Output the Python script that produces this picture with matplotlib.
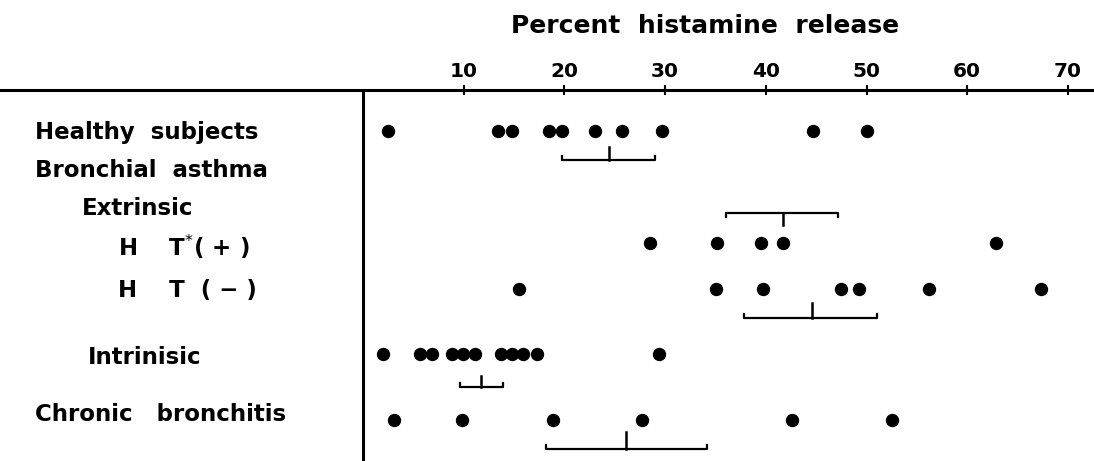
import matplotlib
matplotlib.use('Agg')
import matplotlib.pyplot as plt

# ── Data (percent histamine release) ───────────────────────────────────────────
healthy = [2.5, 13.4, 14.8, 18.5, 19.8, 23.0, 25.7, 29.7, 44.7, 50.0]
ht_pos = [28.5, 35.2, 39.5, 41.7, 62.9]
ht_neg = [15.5, 35.1, 39.7, 47.5, 49.3, 56.2, 67.3]
intrinsic = [2.0, 5.7, 6.9, 8.8, 9.9, 11.1, 13.7, 14.8, 15.9, 17.3, 29.4]
chronic = [3.1, 9.8, 18.9, 27.7, 42.6, 52.5]

# mean bars: (mean, low, high)
bar_healthy = (24.4, 19.8, 29.0)
bar_extrinsic = (41.7, 36.0, 47.2)
bar_ht_neg = (44.6, 37.8, 51.0)
bar_intrinsic = (11.7, 9.6, 13.9)
bar_chronic = (26.1, 18.2, 34.2)

tick_vals = [10, 20, 30, 40, 50, 60, 70]

# ── Layout (vertical positions in pixels from top) ────────────────────────────
W, H = 1094, 461
AXIS_Y = 90
X0 = 363            # pixel of 0 %
PX_PER = 10.07      # pixels per percent

fig = plt.figure(figsize=(W / 100, H / 100), dpi=100)
ax = fig.add_axes([0, 0, 1, 1 - AXIS_Y / H])
ax.set_xlim(-X0 / PX_PER, (W - X0) / PX_PER)
ax.set_ylim(H, AXIS_Y)

for s in ['left', 'right', 'bottom']:
    ax.spines[s].set_visible(False)
ax.spines['top'].set_linewidth(2.2)
ax.xaxis.tick_top()
ax.set_xticks(tick_vals)
ax.set_xticklabels([str(t) for t in tick_vals], fontsize=14.5, fontweight='bold')
ax.tick_params(axis='x', direction='inout', length=7, width=1.5, pad=3)
ax.set_yticks([])
ax.axvline(0, color='black', lw=2.2)

ax.set_xlabel('Percent  histamine  release', fontsize=18, fontweight='bold', labelpad=21)
ax.xaxis.set_label_position('top')
ax.xaxis.label.set_x(705 / W)

dot_kw = dict(ls='none', marker='o', ms=8.6, color='black')
rows = [(healthy, 131), (ht_pos, 243), (ht_neg, 289), (intrinsic, 354), (chronic, 420)]
for vals, y in rows:
    ax.plot(vals, [y] * len(vals), **dot_kw)


def mean_bar(b, y, up=13, end=4):
    # up > 0: mean tick points upward; up < 0: bracket drawn inverted
    m, lo, hi = b
    e = end if up > 0 else -end
    ax.plot([lo, lo, hi, hi], [y - e, y, y, y - e], color='black', lw=1.6)
    ax.plot([m, m], [y, y - up], color='black', lw=1.8)


mean_bar(bar_healthy, 160)
mean_bar(bar_extrinsic, 213, up=-12)
mean_bar(bar_ht_neg, 318, up=15)
mean_bar(bar_intrinsic, 387, up=11)
mean_bar(bar_chronic, 449, up=17)

# ── Row labels ────────────────────────────────────────────────────────────────
def px(x):
    return (x - X0) / PX_PER

lab_kw = dict(fontsize=16.5, fontweight='bold', va='center', ha='left', color='black')
ax.text(px(35), 132, 'Healthy  subjects', **lab_kw)
ax.text(px(35), 170, 'Bronchial  asthma', **lab_kw)
ax.text(px(82), 208, 'Extrinsic', **lab_kw)
ax.text(px(118), 247, 'H    T$^{*}$( + )', **lab_kw)
ax.text(px(118), 290, 'H    T  ( \u2212 )', **lab_kw)
ax.text(px(88), 357, 'Intrinisic', **lab_kw)
ax.text(px(35), 414, 'Chronic   bronchitis', **lab_kw)

fig.savefig('out.png', dpi=100)
